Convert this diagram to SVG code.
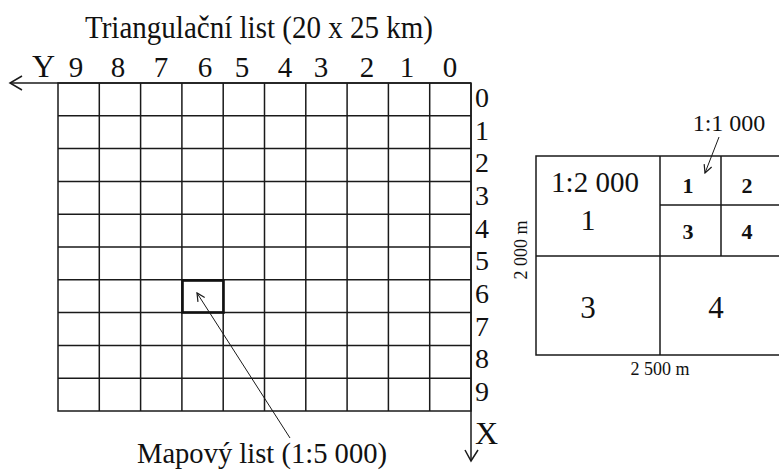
<svg xmlns="http://www.w3.org/2000/svg" width="779" height="470" viewBox="0 0 779 470">
<defs>
<style>
.ln{stroke:#1a1a1a;stroke-width:1.5;fill:none}
.t{font-family:"Liberation Serif","Times New Roman",serif;fill:#111}
.b{font-weight:bold}
</style>
<marker id="ah" viewBox="0 0 10 10" refX="9" refY="5" markerWidth="10" markerHeight="10" markerUnits="userSpaceOnUse" orient="auto">
<path d="M1,1 L9,5 L1,9" fill="none" stroke="#1a1a1a" stroke-width="1.2"/>
</marker>
</defs>
<rect width="779" height="470" fill="#fff"/>

<g id="title">
<text class="t" x="85" y="38" font-size="32" textLength="348" lengthAdjust="spacingAndGlyphs">Triangulační list (20 x 25 km)</text>
</g>

<g id="y-axis">
<line class="ln" x1="10" y1="83" x2="471" y2="83"/>
<polyline class="ln" points="22,76 10,83 22,90"/>
<text class="t" x="43.5" y="77" font-size="32" text-anchor="middle">Y</text>
<g class="t" font-size="29" text-anchor="middle">
<text x="76" y="77">9</text><text x="118" y="77">8</text><text x="161" y="77">7</text><text x="205" y="77">6</text><text x="242" y="77">5</text><text x="285" y="77">4</text><text x="321" y="77">3</text><text x="367" y="77">2</text><text x="407" y="77">1</text><text x="450" y="77">0</text>
</g>
</g>

<g id="x-axis">
<line class="ln" x1="471" y1="83" x2="471" y2="461"/>
<polyline class="ln" points="465,450 471,461 478,450"/>
<text class="t" x="475" y="444" font-size="32">X</text>
<g class="t" font-size="28">
<text x="475" y="107">0</text><text x="475" y="140">1</text><text x="475" y="172">2</text><text x="475" y="205">3</text><text x="475" y="238">4</text><text x="475" y="270">5</text><text x="475" y="303">6</text><text x="475" y="336">7</text><text x="475" y="368">8</text><text x="475" y="401">9</text>
</g>
</g>

<g id="grid" class="ln">
<rect x="58" y="83" width="413" height="328"/>
<path d="M99.3,83V411M140.6,83V411M181.9,83V411M223.2,83V411M264.5,83V411M305.8,83V411M347.1,83V411M388.4,83V411M429.7,83V411"/>
<path d="M58,115.8H471M58,148.6H471M58,181.4H471M58,214.2H471M58,247H471M58,279.8H471M58,312.6H471M58,345.4H471M58,378.2H471"/>
</g>

<g id="map-sheet">
<rect x="182.5" y="280.5" width="41" height="32" fill="none" stroke="#111" stroke-width="2.6"/>
</g>

<g id="map-sheet-label">
<text class="t" x="137" y="463" font-size="29" textLength="250" lengthAdjust="spacingAndGlyphs">Mapový list (1:5 000)</text>
</g>

<g id="division">
<g class="ln">
<path d="M779,156H536V355H779"/>
<path d="M660,156V355M536,256H779M721,156V256M660,205H779"/>
</g>
<text class="t" x="595" y="192" font-size="29" text-anchor="middle">1:2 000</text>
<text class="t" x="588" y="230" font-size="30" text-anchor="middle">1</text>
<g class="t b" font-size="22" text-anchor="middle">
<text x="688" y="193">1</text><text x="747" y="193">2</text><text x="688" y="239">3</text><text x="747" y="239">4</text>
</g>
<text class="t" x="588" y="318" font-size="31" text-anchor="middle">3</text>
<text class="t" x="716" y="318" font-size="31" text-anchor="middle">4</text>
<text class="t" x="660" y="375" font-size="18" text-anchor="middle">2 500 m</text>
<text class="t" transform="translate(527,250) rotate(-90)" x="0" y="0" font-size="18" text-anchor="middle">2 000 m</text>
<text class="t" x="729" y="131" font-size="24" text-anchor="middle">1:1 000</text>
</g>

<g id="connectors">
<line x1="290" y1="438" x2="197" y2="293" stroke="#1a1a1a" stroke-width="1" marker-end="url(#ah)"/>
<line x1="719" y1="137" x2="705" y2="173" stroke="#1a1a1a" stroke-width="1" marker-end="url(#ah)"/>
</g>
</svg>
